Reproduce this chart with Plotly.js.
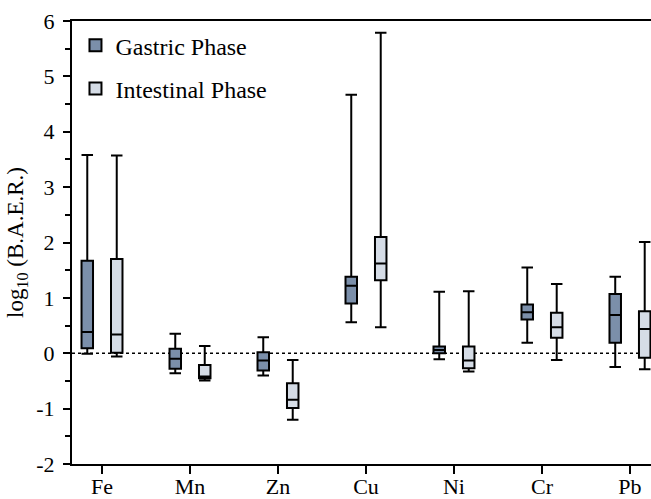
<!DOCTYPE html>
<html>
<head>
<meta charset="utf-8">
<script src="https://cdn.plot.ly/plotly-3.0.1.min.js"></script>
<style>html,body{margin:0;padding:0;background:#fff;}#chart{width:651px;height:499px;}</style>
</head>
<body>
<div id="chart"></div>
<script>
const elements = ["Fe", "Mn", "Zn", "Cu", "Ni", "Cr", "Pb"];

// Gastric phase box statistics (log10 B.A.E.R.)
const gastricLower  = [-0.01, -0.36, -0.40, 0.56, -0.11, 0.19, -0.25];
const gastricQ1     = [0.09, -0.28, -0.31, 0.90, 0.00, 0.61, 0.19];
const gastricMedian = [0.385, -0.10, -0.13, 1.22, 0.06, 0.74, 0.69];
const gastricQ3     = [1.67, 0.08, 0.02, 1.38, 0.12, 0.88, 1.07];
const gastricUpper  = [3.58, 0.35, 0.29, 4.67, 1.11, 1.55, 1.38];

// Intestinal phase box statistics (log10 B.A.E.R.)
const intestLower  = [-0.06, -0.49, -1.20, 0.47, -0.33, -0.12, -0.29];
const intestQ1     = [0.01, -0.45, -0.99, 1.32, -0.27, 0.28, -0.08];
const intestMedian = [0.34, -0.42, -0.84, 1.62, -0.13, 0.47, 0.44];
const intestQ3     = [1.70, -0.21, -0.54, 2.10, 0.12, 0.73, 0.76];
const intestUpper  = [3.57, 0.13, -0.12, 5.79, 1.12, 1.25, 2.01];

const yTickVals = [-2, -1, 0, 1, 2, 3, 4, 5, 6];
const yTickText = ["-2", "-1", "0", "1", "2", "3", "4", "5", "6"];

const serif = "Liberation Serif";

const traces = [
  {
    type: "box", name: "Gastric Phase", legendgroup: "g",
    x: elements, q1: gastricQ1, median: gastricMedian, q3: gastricQ3,
    lowerfence: gastricLower, upperfence: gastricUpper,
    fillcolor: "#7b8faa", line: {color: "#000", width: 2},
    whiskerwidth: 1, boxpoints: false, hoverinfo: "skip"
  },
  {
    type: "box", name: "Intestinal Phase", legendgroup: "i",
    x: elements, q1: intestQ1, median: intestMedian, q3: intestQ3,
    lowerfence: intestLower, upperfence: intestUpper,
    fillcolor: "#d5dce6", line: {color: "#000", width: 2},
    whiskerwidth: 1, boxpoints: false, hoverinfo: "skip"
  }
];

const layout = {
  width: 651, height: 499,
  margin: {l: 72, r: 0, t: 21, b: 35, pad: 0},
  paper_bgcolor: "#fff", plot_bgcolor: "#fff",
  font: {family: serif, size: 21, color: "#000"},
  boxmode: "group", boxgap: 0.33, boxgroupgap: 0.61,
  showlegend: true,
  legend: {
    x: 0.006, xanchor: "left", y: 0.995, yanchor: "top",
    bgcolor: "rgba(0,0,0,0)", font: {family: serif, size: 24, color: "#000"},
    traceorder: "grouped", tracegroupgap: 9, itemwidth: 30
  },
  xaxis: {
    type: "category", range: [-0.341, 6.239],
    showgrid: false, zeroline: false,
    showline: true, linecolor: "#000", linewidth: 2, mirror: true,
    ticks: "outside", ticklen: 8, tickwidth: 1.5, tickcolor: "#000",
    ticklabelstandoff: -6,
    tickfont: {family: serif, size: 22, color: "#000"}
  },
  yaxis: {
    range: [-2, 6], showgrid: false, zeroline: false,
    showline: true, linecolor: "#000", linewidth: 2,
    tickmode: "array", tickvals: yTickVals, ticktext: yTickText,
    ticks: "outside", ticklen: 7, tickwidth: 2, tickcolor: "#000",
    minor: {dtick: 0.5, ticks: "outside", ticklen: 5, tickwidth: 2, tickcolor: "#000", showgrid: false},
    tickfont: {family: serif, size: 22, color: "#000"},
    ticklabelstandoff: 4,
    title: {text: "log<sub>10</sub> (B.A.E.R.)", font: {family: serif, size: 23, color: "#000"}, standoff: 6}
  },
  shapes: [
    {type: "line", xref: "paper", x0: 0, x1: 1, yref: "y", y0: 0, y1: 0,
     line: {color: "#000", width: 1.5, dash: "dot"}, layer: "below"}
  ]
};

Plotly.newPlot("chart", traces, layout, {displayModeBar: false, staticPlot: true});
</script>
</body>
</html>
